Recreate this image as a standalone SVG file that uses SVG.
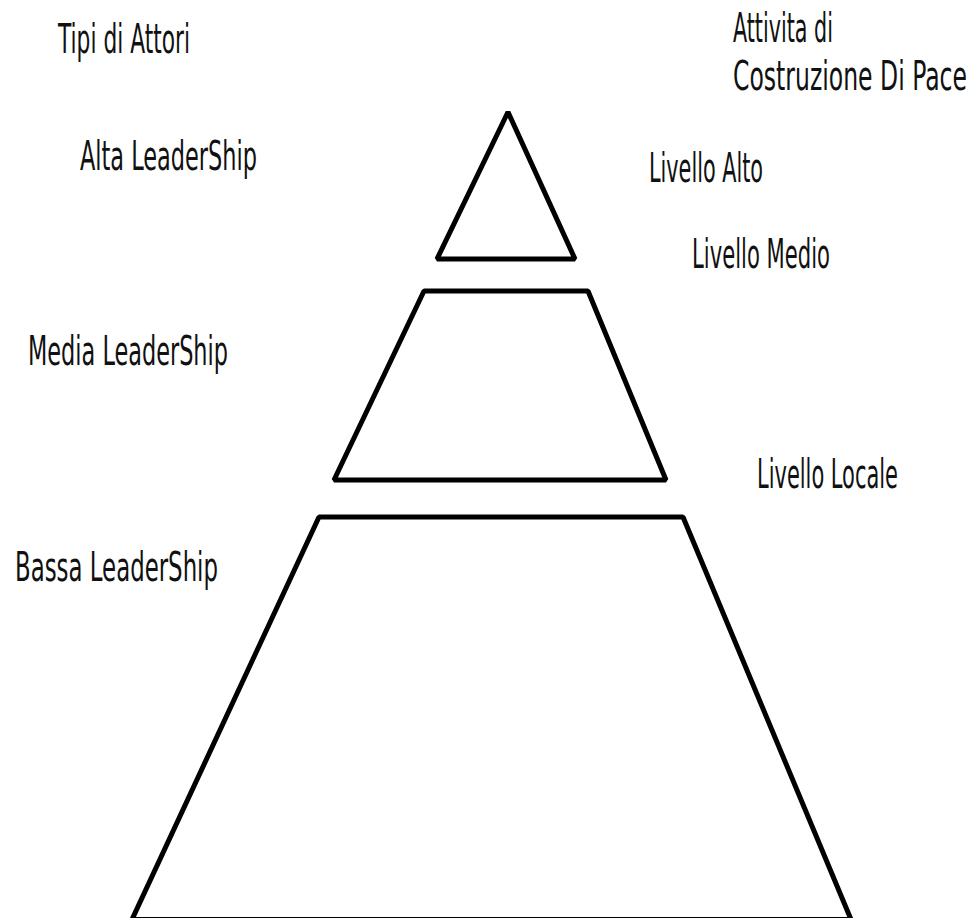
<svg xmlns="http://www.w3.org/2000/svg" width="973" height="918" viewBox="0 0 973 918">
<style>
.shape{fill:none;stroke:#000;stroke-width:5;stroke-linejoin:bevel}
.lbl{font-family:"DejaVu Sans Condensed","DejaVu Sans","Liberation Sans Narrow",sans-serif;font-stretch:condensed;font-size:40px;fill:#111}
</style>
<rect width="973" height="918" fill="#fff"/>
<g id="top-level">
<polygon class="shape" points="508,112 575,259 437,259"/>
</g>
<g id="middle-level">
<polygon class="shape" points="424,291 588,291 666,480 334,480"/>
</g>
<g id="local-level">
<polygon class="shape" points="319,517 683,517 851,919.5 132,919.5"/>
</g>
<g id="connectors"></g>
<g id="labels">
<text class="lbl" x="58" y="53" textLength="132" lengthAdjust="spacingAndGlyphs">Tipi di Attori</text>
<text class="lbl" x="80" y="170" textLength="177" lengthAdjust="spacingAndGlyphs">Alta LeaderShip</text>
<text class="lbl" x="28" y="365" textLength="200" lengthAdjust="spacingAndGlyphs">Media LeaderShip</text>
<text class="lbl" x="15" y="581" textLength="203" lengthAdjust="spacingAndGlyphs">Bassa LeaderShip</text>
<text class="lbl" x="733" y="42" textLength="100" lengthAdjust="spacingAndGlyphs">Attivita di</text>
<text class="lbl" x="733" y="90" textLength="234" lengthAdjust="spacingAndGlyphs">Costruzione Di Pace</text>
<text class="lbl" x="649" y="182" textLength="114" lengthAdjust="spacingAndGlyphs">Livello Alto</text>
<text class="lbl" x="692" y="268" textLength="138" lengthAdjust="spacingAndGlyphs">Livello Medio</text>
<text class="lbl" x="757" y="488" textLength="141" lengthAdjust="spacingAndGlyphs">Livello Locale</text>
</g>
</svg>
